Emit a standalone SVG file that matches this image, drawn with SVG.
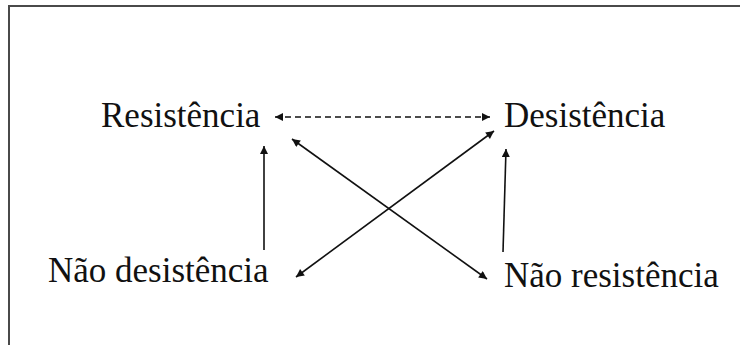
<svg xmlns="http://www.w3.org/2000/svg" width="740" height="345" viewBox="0 0 740 345">
<style>
.lbl{font-family:"Liberation Serif","Times New Roman",serif;font-size:35px;fill:#111;}
.c{stroke:#111;stroke-width:1.6;fill:none;}
.dash{stroke-dasharray:6 4;}
</style>
<defs>
<marker id="ah" viewBox="0 0 10 10" refX="10" refY="5" markerWidth="9" markerHeight="8" markerUnits="userSpaceOnUse" orient="auto-start-reverse">
<path d="M0,0 L10,5 L0,10 z" fill="#111"/>
</marker>
</defs>
<rect width="740" height="345" fill="#fff"/>
<path d="M9,345 V6 H740" stroke="#4a4a4a" stroke-width="2" fill="none"/>
<g id="resistencia"><text class="lbl" x="101" y="127">Resistência</text></g>
<g id="desistencia"><text class="lbl" x="504" y="127">Desistência</text></g>
<g id="nao-desistencia"><text class="lbl" x="48" y="282">Não desistência</text></g>
<g id="nao-resistencia"><text class="lbl" x="504" y="287">Não resistência</text></g>
<g id="connectors">
<line class="c dash" x1="275" y1="117" x2="490" y2="117" marker-start="url(#ah)" marker-end="url(#ah)"/>
<line class="c" x1="264" y1="250" x2="264" y2="146" marker-end="url(#ah)"/>
<line class="c" x1="503" y1="252" x2="506" y2="149" marker-end="url(#ah)"/>
<line class="c" x1="292" y1="139" x2="487" y2="279" marker-start="url(#ah)" marker-end="url(#ah)"/>
<line class="c" x1="494" y1="131" x2="296" y2="277" marker-start="url(#ah)" marker-end="url(#ah)"/>
</g>
</svg>
